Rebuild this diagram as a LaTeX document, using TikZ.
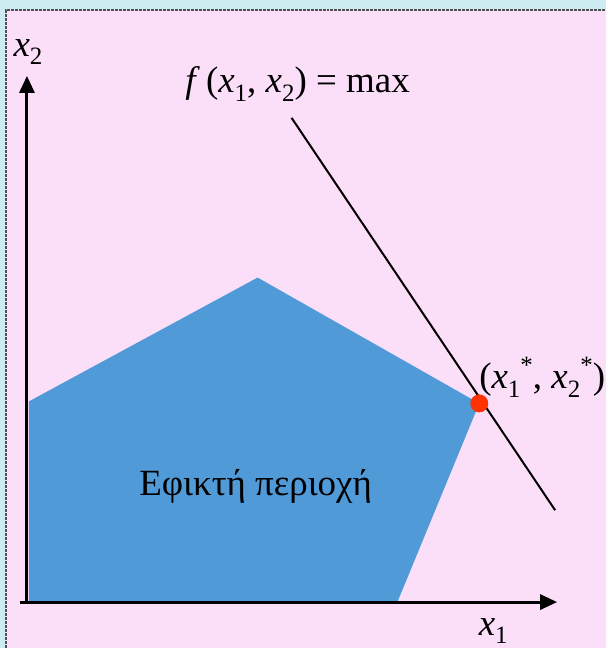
\documentclass[tikz,border=0pt]{standalone}
\usepackage{fontspec}
\setmainfont{Liberation Serif}
\usetikzlibrary{arrows.meta}
\definecolor{LPPink}{RGB}{251,222,247}
\definecolor{LPCyan}{RGB}{205,236,242}
\definecolor{LPBlue}{RGB}{80,154,216}
\definecolor{LPRed}{RGB}{255,51,0}
\definecolor{LPFrame}{RGB}{80,80,80}
\newcommand{\vsub}[1]{\raisebox{-0.5ex}{\fontsize{25}{28}\selectfont #1}}
\newcommand{\vsup}[1]{\raisebox{0.9ex}{\fontsize{25}{28}\selectfont #1}}

\begin{document}
\begin{tikzpicture}[x=1pt,y=-1pt,
    >={Triangle[length=17pt,width=15pt]},
    axis/.style={->,line width=3pt,draw=black},
    level/.style={line width=2pt,draw=black},
    region/.style={fill=LPBlue,draw=none},
    optimum/.style={circle,fill=LPRed,inner sep=0pt,minimum size=18pt},
    lbl/.style={inner sep=0pt,font=\fontsize{37}{40}\selectfont}
  ]
  % background and frame
  \fill[LPCyan] (0,0) rectangle (607,649);
  \fill[LPPink] (6,10) rectangle (607,649);
  \draw[LPFrame,line width=2pt,dash pattern=on 3pt off 1pt] (6,649) -- (6,10) -- (607,10);
  \useasboundingbox (0,0) rectangle (607,649);

  % feasible region
  \coordinate (p1) at (29,603);
  \coordinate (p2) at (29,402);
  \coordinate (p3) at (258,278);
  \coordinate (p4) at (480,404);
  \coordinate (p5) at (398,603);
  \fill[region] (p1) -- (p2) -- (p3) -- (p4) -- (p5) -- cycle;
  \node[lbl] (area) at (256,487) {Εφικτή περιοχή};

  % axes
  \coordinate (o) at (27,603);
  \coordinate (xs) at (20,603);
  \coordinate (xe) at (558,603);
  \coordinate (ye) at (27,76);
  \draw[axis] (xs) -- (xe);
  \draw[axis] (o) -- (ye);
  \node[lbl] (xlab) at (494,632) {\textit{x}\vsub{1}};
  \node[lbl] (ylab) at (28,52) {\textit{x}\vsub{2}};

  % objective level line
  \coordinate (l1) at (292,118);
  \coordinate (l2) at (556,511);
  \draw[level] (l1) -- (l2);
  \node[lbl] (flab) at (298,84) {\textit{f}\,(\textit{x}\vsub{1}, \textit{x}\vsub{2}) = max};

  % optimum
  \node[optimum] (opt) at (p4) {};
  \node[lbl] (optlab) at (543,378) {(\textit{x}\vsub{1}\vsup{*}, \textit{x}\vsub{2}\vsup{*})};
\end{tikzpicture}
\end{document}
